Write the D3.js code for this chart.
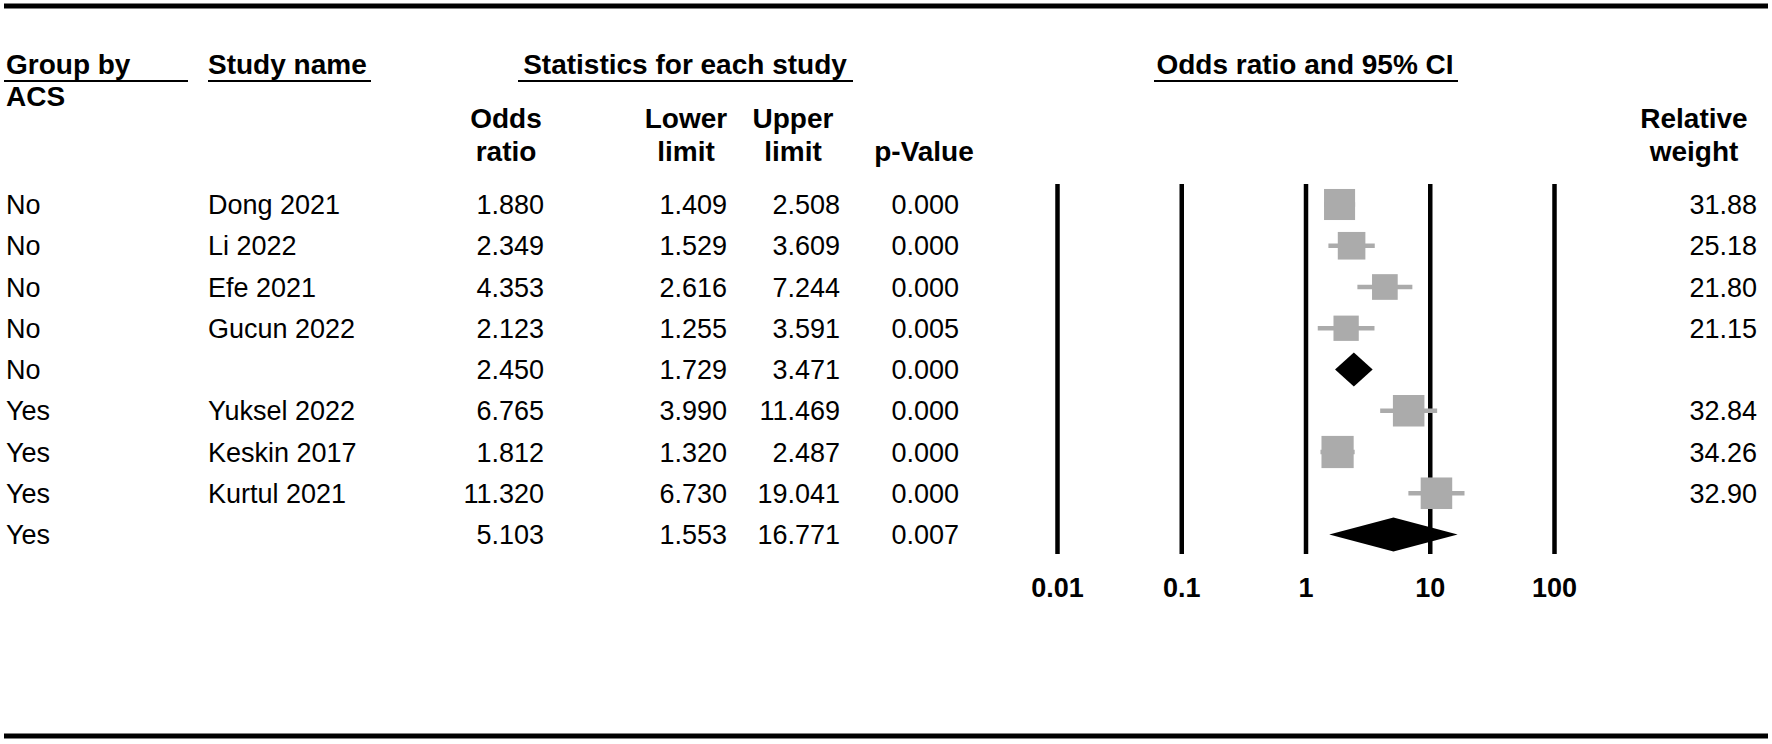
<!DOCTYPE html>
<html>
<head>
<meta charset="utf-8">
<script src="https://cdn.jsdelivr.net/npm/d3@7"></script>
<style>
  body { margin: 0; background: #fff; }
  text { font-family: "Liberation Sans", Arial, Helvetica, sans-serif; fill: #000; }
  .bold { font-weight: bold; font-size: 28px; }
  .cell { font-size: 27px; }
</style>
</head>
<body>
<div id="wrapper"></div>
<script>
// study rows, top to bottom
const groups    = ["No", "No", "No", "No", "No", "Yes", "Yes", "Yes", "Yes"];
const studies   = ["Dong 2021", "Li 2022", "Efe 2021", "Gucun 2022", "", "Yuksel 2022", "Keskin 2017", "Kurtul 2021", ""];
const oddsRatio = [1.880, 2.349, 4.353, 2.123, 2.450, 6.765, 1.812, 11.320, 5.103];
const lowerCI   = [1.409, 1.529, 2.616, 1.255, 1.729, 3.990, 1.320, 6.730, 1.553];
const upperCI   = [2.508, 3.609, 7.244, 3.591, 3.471, 11.469, 2.487, 19.041, 16.771];
const pValues   = ["0.000", "0.000", "0.000", "0.005", "0.000", "0.000", "0.000", "0.000", "0.007"];
const weights   = [31.88, 25.18, 21.80, 21.15, null, 32.84, 34.26, 32.90, null];
const isSummary = [false, false, false, false, true, false, false, false, true];
const axisTicks = [0.01, 0.1, 1, 10, 100];

const width = 1772, height = 744;

const rows = groups.map((g, i) => ({
    i: i, group: g, study: studies[i], or: oddsRatio[i], lo: lowerCI[i], hi: upperCI[i],
    p: pValues[i], w: weights[i], summary: isSummary[i]
}));

const svg = d3.select("#wrapper")
    .append("svg")
        .attr("width", width)
        .attr("height", height);

// scales
const xScale = d3.scaleLog()
    .domain([0.01, 100])
    .range([1057, 1554]);
const yScale = d3.scalePoint()
    .domain(rows.map(d => d.i))
    .range([204.5, 534.5]);
const plotTop = 184, plotBottom = 554;

// top and bottom rules
[6, 736].forEach(y => {
    svg.append("line")
        .attr("x1", 4).attr("x2", 1768)
        .attr("y1", y).attr("y2", y)
        .attr("stroke", "#000").attr("stroke-width", 5);
});

// header row 1 with underlines
const topHeaders = [
    {t: "Group by", x: 6, anchor: "start", u: [4, 188]},
    {t: "Study name", x: 208, anchor: "start", u: [208, 371]},
    {t: "Statistics for each study", x: 685, anchor: "middle", u: [518, 853]},
    {t: "Odds ratio and 95% CI", x: 1305, anchor: "middle", u: [1154, 1458]}
];
topHeaders.forEach(h => {
    svg.append("text").attr("class", "bold")
        .attr("x", h.x).attr("y", 74)
        .attr("text-anchor", h.anchor)
        .text(h.t);
    svg.append("line")
        .attr("x1", h.u[0]).attr("x2", h.u[1])
        .attr("y1", 81).attr("y2", 81)
        .attr("stroke", "#000").attr("stroke-width", 2);
});
svg.append("text").attr("class", "bold").attr("x", 6).attr("y", 106).text("ACS");

// column headers
const colHeaders = [
    {l: ["Odds", "ratio"], x: 506},
    {l: ["Lower", "limit"], x: 686},
    {l: ["Upper", "limit"], x: 793},
    {l: ["", "p-Value"], x: 924},
    {l: ["Relative", "weight"], x: 1694}
];
colHeaders.forEach(h => {
    h.l.forEach((t, k) => {
        svg.append("text").attr("class", "bold")
            .attr("x", h.x).attr("y", k === 0 ? 128 : 161)
            .attr("text-anchor", "middle")
            .text(t);
    });
});

// table cells
const fmt3 = d3.format(".3f");
const fmt2 = d3.format(".2f");
const cols = [
    {x: 6, anchor: "start", v: d => d.group},
    {x: 208, anchor: "start", v: d => d.study},
    {x: 544, anchor: "end", v: d => fmt3(d.or)},
    {x: 727, anchor: "end", v: d => fmt3(d.lo)},
    {x: 840, anchor: "end", v: d => fmt3(d.hi)},
    {x: 959, anchor: "end", v: d => d.p},
    {x: 1757, anchor: "end", v: d => d.w == null ? "" : fmt2(d.w)}
];
cols.forEach(c => {
    svg.append("g").selectAll("text")
        .data(rows)
        .join("text")
            .attr("class", "cell")
            .attr("x", c.x)
            .attr("y", d => yScale(d.i) + 9.5)
            .attr("text-anchor", c.anchor)
            .text(c.v);
});

// reference lines + tick labels from the axis
const axis = d3.axisBottom(xScale)
    .tickValues(axisTicks)
    .tickFormat(d3.format("~g"))
    .tickSizeInner(-(plotBottom - plotTop))
    .tickSizeOuter(0)
    .tickPadding(24);
const axisG = svg.append("g")
    .attr("transform", `translate(0,${plotBottom})`)
    .call(axis);
axisG.select(".domain").remove();
axisG.selectAll(".tick line")
    .attr("stroke", "#000")
    .attr("stroke-width", 4.5);
axisG.selectAll(".tick text")
    .attr("fill", "#000")
    .style("font-family", "'Liberation Sans', Arial, sans-serif")
    .style("font-size", "27px")
    .style("font-weight", "bold");

// study markers
const grey = "#ababab";
const studyRows = rows.filter(d => !d.summary);
svg.append("g").selectAll("line")
    .data(studyRows)
    .join("line")
        .attr("x1", d => xScale(d.lo))
        .attr("x2", d => xScale(d.hi))
        .attr("y1", d => yScale(d.i))
        .attr("y2", d => yScale(d.i))
        .attr("stroke", grey)
        .attr("stroke-width", 4.5);

// box side grows with sqrt of weight
const boxSide = d => 5.5 * Math.sqrt(d.w);
svg.append("g").selectAll("rect")
    .data(studyRows)
    .join("rect")
        .attr("x", d => xScale(d.or) - boxSide(d) / 2)
        .attr("y", d => yScale(d.i) - boxSide(d) / 2)
        .attr("width", boxSide)
        .attr("height", boxSide)
        .attr("fill", grey);

// subgroup summary diamonds
const halfH = 17;
svg.append("g").selectAll("path")
    .data(rows.filter(d => d.summary))
    .join("path")
        .attr("d", d => {
            const y = yScale(d.i);
            return `M${xScale(d.lo)},${y} L${xScale(d.or)},${y - halfH} L${xScale(d.hi)},${y} L${xScale(d.or)},${y + halfH} Z`;
        })
        .attr("fill", "#000");
</script>
</body>
</html>
